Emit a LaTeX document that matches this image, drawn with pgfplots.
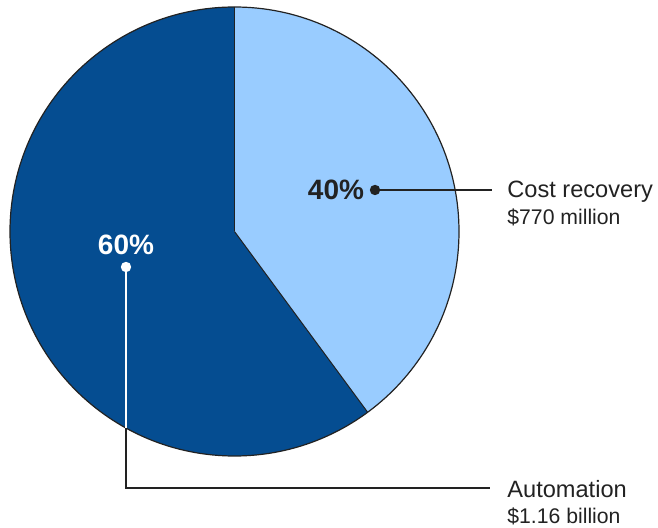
\documentclass[border=0pt]{standalone}
\usepackage{pgfplots}
\pgfplotsset{compat=1.18}
\usepackage{fontspec}
\setmainfont{Liberation Sans}

\definecolor{darkblue}{HTML}{054D91}
\definecolor{lightblue}{HTML}{99CCFF}
\definecolor{ink}{HTML}{222222}

% spending shares, million dollars
\def\costrec{770}
\def\autom{1160}

\begin{document}
\begin{tikzpicture}
  \pgfmathsetmacro\angA{90-360*(\costrec/(\costrec+\autom))}
  \begin{axis}[
      hide axis,
      scale only axis,
      width=329pt, height=263.5pt,
      xmin=0, xmax=658, ymin=0, ymax=527,
      clip=false
    ]
    % pie
    \fill[lightblue] (axis cs:234.5,295.5) -- ++(90:112.25pt)
      arc[start angle=90, end angle=\angA, radius=112.25pt] -- cycle;
    \fill[darkblue] (axis cs:234.5,295.5) -- ++(\angA:112.25pt)
      arc[start angle=\angA, end angle=-270, radius=112.25pt] -- cycle;
    \draw[ink, line width=0.5pt] (axis cs:234.5,295.5) -- ++(90:112.25pt);
    \draw[ink, line width=0.5pt] (axis cs:234.5,295.5) -- ++(\angA:112.25pt);
    \draw[ink, line width=0.6pt] (axis cs:234.5,295.5) circle[radius=112.25pt];

    % cost recovery callout
    \draw[ink, line width=0.7pt] (axis cs:375,337) -- (axis cs:492,337);
    \fill[ink] (axis cs:375,337) circle[radius=2.6pt];
    \node[text=ink, font=\fontsize{14}{16}\selectfont\bfseries] at (axis cs:336,337) {40\%};
    \node[anchor=base west, inner sep=0pt, text=ink, font=\fontsize{11.8}{14}\selectfont] at (axis cs:507,329) {Cost recovery};
    \node[anchor=base west, inner sep=0pt, text=ink, font=\fontsize{10.6}{12}\selectfont] at (axis cs:507,302) {\$770 million};

    % automation callout
    \draw[ink, line width=0.7pt] (axis cs:126,260) -- (axis cs:126,39) -- (axis cs:490,39);
    \draw[white, line width=0.7pt] (axis cs:126,260) -- (axis cs:126,99.5);
    \fill[white] (axis cs:126,260) circle[radius=2.6pt];
    \node[text=white, font=\fontsize{14}{16}\selectfont\bfseries] at (axis cs:126,282) {60\%};
    \node[anchor=base west, inner sep=0pt, text=ink, font=\fontsize{11.8}{14}\selectfont] at (axis cs:507,30) {Automation};
    \node[anchor=base west, inner sep=0pt, text=ink, font=\fontsize{10.6}{12}\selectfont] at (axis cs:507,4) {\$1.16 billion};
  \end{axis}
  \pgfresetboundingbox
  \path (0,0) rectangle (329pt,263.5pt);
\end{tikzpicture}
\end{document}
